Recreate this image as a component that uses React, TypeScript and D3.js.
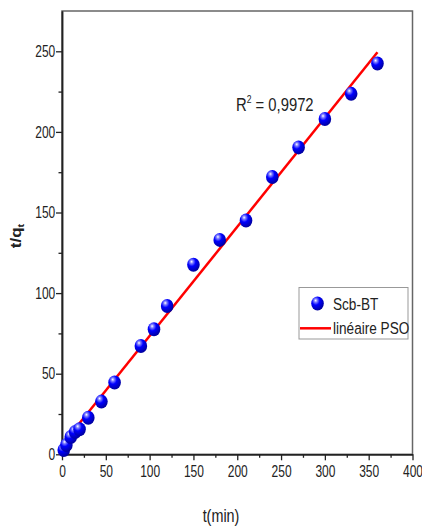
import React, { useEffect, useRef } from "react";
import * as d3 from "d3";

// measured points (t in min, t/qt)
const timeMin = [2, 5, 10, 15, 20, 30, 45, 60, 90, 105, 120, 150, 180, 210, 240, 270, 300, 330, 360];
const tOverQ = [2.7, 5.8, 10.7, 13.8, 15.5, 22.7, 32.7, 44.5, 67.2, 77.6, 92, 117.6, 133, 145, 172, 190.4, 208, 223.6, 242.4];

// PSO linear fit end points
const fitTime = [3, 360];
const fitValue = [7.8, 249.4];

const xTicks = [0, 50, 100, 150, 200, 250, 300, 350, 400];
const xMinorTicks = [25, 75, 125, 175, 225, 275, 325, 375];
const yTicks = [0, 50, 100, 150, 200, 250];
const yMinorTicks = [25, 75, 125, 175, 225];

const legendLabels = ["Scb-BT", "linéaire PSO"];
const r2Value = "0,9972";

const FONT = "'Liberation Sans', Arial, sans-serif";

export default function App() {
  const svgRef = useRef<SVGSVGElement | null>(null);

  useEffect(() => {
    const width = 422;
    const height = 529;
    const margin = { top: 11, right: 9.5, bottom: 74.7, left: 62 };

    const svg = d3.select(svgRef.current);
    svg.selectAll("*").remove();
    svg.attr("width", width).attr("height", height);

    const defs = svg.append("defs");
    const grad = defs.append("radialGradient")
      .attr("id", "ball")
      .attr("cx", "38%")
      .attr("cy", "32%")
      .attr("r", "70%")
      .attr("fx", "35%")
      .attr("fy", "28%");
    grad.append("stop").attr("offset", "0%").attr("stop-color", "#ffffff");
    grad.append("stop").attr("offset", "18%").attr("stop-color", "#8080ff");
    grad.append("stop").attr("offset", "45%").attr("stop-color", "#0000ff");
    grad.append("stop").attr("offset", "100%").attr("stop-color", "#00009a");

    const x = d3.scaleLinear().domain([0, 400]).range([margin.left, width - margin.right]);
    const y = d3.scaleLinear().domain([0, 275]).range([height - margin.bottom, margin.top]);

    // frame
    svg.append("rect")
      .attr("x", margin.left)
      .attr("y", margin.top)
      .attr("width", width - margin.left - margin.right)
      .attr("height", height - margin.top - margin.bottom)
      .attr("fill", "none")
      .attr("stroke", "#666")
      .attr("stroke-width", 1.5);

    // x axis
    const xAxis = svg.append("g")
      .attr("transform", `translate(0,${y(0)})`)
      .call(d3.axisBottom(x).tickValues(xTicks).tickSize(6).tickSizeOuter(0).tickPadding(5));
    xAxis.append("g")
      .call(d3.axisBottom(x).tickValues(xMinorTicks).tickSize(3.5).tickSizeOuter(0).tickFormat(() => ""));
    xAxis.selectAll("path.domain").attr("stroke", "#222").attr("stroke-width", 1.5);
    xAxis.selectAll("line").attr("stroke", "#222").attr("stroke-width", 1.3);
    xAxis.selectAll("text")
      .attr("font-family", FONT)
      .attr("font-size", 16)
      .attr("fill", "#222")
      .attr("transform", "scale(0.75,1)");

    // y axis
    const yAxis = svg.append("g")
      .attr("transform", `translate(${margin.left},0)`)
      .call(d3.axisLeft(y).tickValues(yTicks).tickSize(6).tickSizeOuter(0).tickPadding(3));
    yAxis.append("g")
      .call(d3.axisLeft(y).tickValues(yMinorTicks).tickSize(3.5).tickSizeOuter(0).tickFormat(() => ""));
    yAxis.selectAll("path.domain").attr("stroke", "#222").attr("stroke-width", 1.5);
    yAxis.selectAll("line").attr("stroke", "#222").attr("stroke-width", 1.3);
    yAxis.selectAll("text")
      .attr("font-family", FONT)
      .attr("font-size", 16)
      .attr("fill", "#222")
      .attr("transform", "scale(0.75,1)");

    // axis titles
    svg.append("text")
      .attr("transform", `translate(221,${height - 7}) scale(0.8,1)`)
      .attr("text-anchor", "middle")
      .attr("font-family", FONT)
      .attr("font-size", 18)
      .attr("fill", "#222")
      .text("t(min)");

    const yTitle = svg.append("text")
      .attr("transform", `translate(21,236) rotate(-90) scale(1,0.85)`)
      .attr("text-anchor", "middle")
      .attr("font-family", FONT)
      .attr("font-size", 17)
      .attr("font-weight", "bold")
      .attr("fill", "#222");
    yTitle.append("tspan").text("t/q");
    yTitle.append("tspan").attr("font-size", 11).attr("dy", 4).text("t");

    // fit line
    const fitData = fitTime.map((t, i) => ({ t, v: fitValue[i] }));
    svg.append("path")
      .datum(fitData)
      .attr("fill", "none")
      .attr("stroke", "#ff0000")
      .attr("stroke-width", 2.5)
      .attr("d", d3.line<{ t: number; v: number }>().x(d => x(d.t)).y(d => y(d.v)));

    // points
    const pts = timeMin.map((t, i) => ({ t, v: tOverQ[i] }));
    svg.append("g")
      .selectAll("ellipse")
      .data(pts)
      .join("ellipse")
      .attr("cx", d => x(d.t))
      .attr("cy", d => y(d.v))
      .attr("rx", 6.3)
      .attr("ry", 7)
      .attr("fill", "url(#ball)");

    // R² annotation
    const r2 = svg.append("text")
      .attr("transform", `translate(236,111) scale(0.78,1)`)
      .attr("font-family", FONT)
      .attr("font-size", 19)
      .attr("fill", "#222");
    r2.append("tspan").text("R");
    r2.append("tspan").attr("font-size", 11).attr("dy", -8).text("2");
    r2.append("tspan").attr("dy", 8).text(` = ${r2Value}`);

    // legend
    const lg = svg.append("g");
    lg.append("rect")
      .attr("x", 299)
      .attr("y", 287.5)
      .attr("width", 109)
      .attr("height", 51.5)
      .attr("fill", "#fff")
      .attr("stroke", "#999")
      .attr("stroke-width", 1);
    lg.append("ellipse")
      .attr("cx", 317.5)
      .attr("cy", 303.5)
      .attr("rx", 6.3)
      .attr("ry", 7)
      .attr("fill", "url(#ball)");
    lg.append("line")
      .attr("x1", 300)
      .attr("x2", 331)
      .attr("y1", 328.3)
      .attr("y2", 328.3)
      .attr("stroke", "#ff0000")
      .attr("stroke-width", 2.5);
    legendLabels.forEach((label, i) => {
      lg.append("text")
        .attr("transform", `translate(333,${309.5 + i * 24.5}) scale(0.8,1)`)
        .attr("font-family", FONT)
        .attr("font-size", 17)
        .attr("fill", "#222")
        .text(label);
    });
  }, []);

  return (
    <svg
      ref={svgRef}
      style={{ position: "absolute", left: 0, top: 0, background: "#fff" }}
    />
  );
}
